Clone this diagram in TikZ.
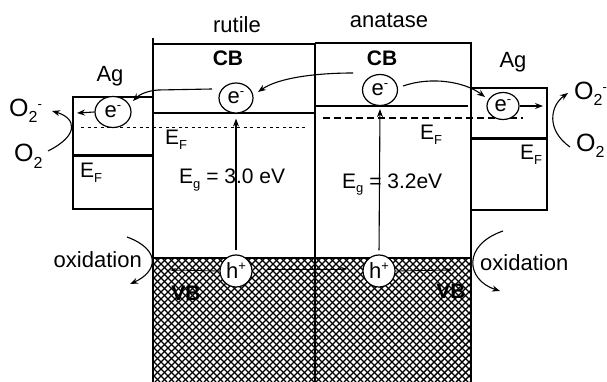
\documentclass[tikz,border=0pt]{standalone}
\usepackage{fontspec}
\setmainfont{Liberation Sans}
\usetikzlibrary{arrows.meta,shapes.geometric}
\newcommand{\lsub}[1]{\raisebox{-5pt}{\fontsize{13pt}{13pt}\selectfont #1}}
\newcommand{\osub}[1]{\raisebox{-6pt}{\fontsize{16pt}{16pt}\selectfont #1}}
\newcommand{\hsup}[1]{\raisebox{8pt}{\fontsize{13pt}{13pt}\selectfont #1}}
\begin{document}
\begin{tikzpicture}[x=1pt,y=-1pt,
  font=\fontsize{22pt}{24pt}\selectfont,
  ln/.style={line width=1.3pt},
  thickln/.style={line width=3pt},
  carrier/.style={ellipse, draw, fill=white, inner sep=0pt, line width=1.2pt},
  arr/.style={-{Stealth[length=8pt,width=6pt]}, line width=1.1pt},
  lbl/.style={inner sep=0pt, anchor=base west},
  elbl/.style={inner sep=0pt, anchor=base west, font=\fontsize{21pt}{23pt}\selectfont},
  olbl/.style={inner sep=0pt, anchor=base west, font=\fontsize{25pt}{27pt}\selectfont},
  bld/.style={inner sep=0pt, font=\fontsize{21pt}{23pt}\selectfont\bfseries}]
\useasboundingbox (0,0) rectangle (607,382);

% valence band cross-hatch
\begin{scope}
  \clip (153,258) rectangle (471,382);
  \foreach \a in {0,7,...,462}{
    \draw[line width=1.4pt] ({29+\a},382) -- ({153+\a},258);
    \draw[line width=1.4pt] ({29+\a},258) -- ({153+\a},382);
  }
\end{scope}

% band frame
\draw[ln] (153,38) -- (153,382);
\draw[ln] (315,44) -- (315,382);
\draw[ln] (471,42) -- (471,382);
\draw[ln] (153,44) -- (315,44);
\draw[ln] (315,43) -- (471,43);
\draw[ln] (153,113) -- (315,113);
\draw[ln] (315,106) -- (468,106);
\draw[ln] (153,258) -- (471,258);

% Ag boxes
\draw[ln] (153,97) -- (73,97) -- (73,209) -- (153,209);
\draw[thickln] (73,156) -- (153,156);
\draw[ln] (471,88) -- (547,88) -- (547,210) -- (471,210);
\draw[thickln] (471,139) -- (547,139);

% Fermi levels
\draw[line width=1pt, dash pattern=on 3pt off 3.5pt] (81,128) -- (308,128);
\draw[line width=1.1pt, dash pattern=on 7pt off 4pt] (323,118) -- (523,118);

% labels
\node[inner sep=0pt, anchor=base] (rut) at (237,33) {rutile};
\node[inner sep=0pt, anchor=base] (ana) at (389,28) {anatase};
\node[bld] (cbr) at (228,58) {CB};
\node[bld] (cba) at (382,58) {CB};
\node[inner sep=0pt, anchor=base] (ag1) at (110,82) {Ag};
\node[inner sep=0pt, anchor=base] (ag2) at (513,68) {Ag};
\node[elbl] (ef1) at (80,178) {E\lsub{F}};
\node[elbl] (ef2) at (165,145) {E\lsub{F}};
\node[elbl] (ef3) at (420,140) {E\lsub{F}};
\node[elbl] (ef4) at (520,160) {E\lsub{F}};
\node[elbl] (egr) at (179,183) {E\lsub{g} = 3.0 eV};
\node[elbl] (ega) at (342,188) {E\lsub{g} = 3.2eV};
\node[lbl, anchor=base east] (ox1) at (142,267) {oxidation};
\node[lbl] (ox2) at (480,270) {oxidation};
\node[bld] (vb1) at (186,293) {VB};
\node[bld] (vb2) at (451,291) {VB};
\node[olbl] (o2m1) at (9,117) {O\osub{2}\hsup{-}};
\node[olbl] (o21) at (14,162) {O\osub{2}};
\node[olbl] (o2m2) at (574,100) {O\osub{2}\hsup{-}};
\node[olbl] (o22) at (576,152) {O\osub{2}};

% carriers
\node[carrier, minimum width=36pt, minimum height=31pt] (eAg1) at (113,112) {e\hsup{-}};
\node[carrier, minimum width=34pt, minimum height=30pt] (eR) at (236,98) {e\hsup{-}};
\node[carrier, minimum width=35pt, minimum height=31pt] (eA) at (380,90) {e\hsup{-}};
\node[carrier, minimum width=32pt, minimum height=27pt] (eAg2) at (503,106) {e\hsup{-}};
\node[carrier, circle, minimum size=32pt] (hR) at (236,271) {h\hsup{+}};
\node[carrier, circle, minimum size=32pt] (hA) at (379,271) {h\hsup{+}};

% free ends
\coordinate (c1) at (353,73);
\coordinate (c2) at (258,92);
\coordinate (c3) at (212,89);
\coordinate (c4) at (133,101);
\coordinate (c5) at (403,86);
\coordinate (c6) at (485,97);
\coordinate (c7) at (77,113);
\coordinate (c8) at (543,106);
\coordinate (o1s) at (48,151);
\coordinate (o1e) at (52,111);
\coordinate (o2s) at (570,147);
\coordinate (o2e) at (568,93);
\coordinate (x1s) at (127,237);
\coordinate (x1e) at (130,284);
\coordinate (x2s) at (503,231);
\coordinate (x2e) at (500,291);
\coordinate (h1) at (170,270);
\coordinate (h2s) at (267,269);
\coordinate (h2e) at (347,269);
\coordinate (h3) at (452,270);

% electron transfer
\draw[arr] (c1) .. controls (315,73) and (278,78) .. (c2);
\draw[arr] (c3) -- (158,90) .. controls (146,91) and (139,95) .. (c4);
\draw[arr] (c5) .. controls (432,76) and (465,82) .. (c6);
\draw[arr] (eAg1.west) -- (c7);
\draw[arr] (eAg2.east) -- (c8);

% excitation
\draw[arr, shorten <=4pt, shorten >=5pt] (hR.north) -- (eR.south);
\draw[arr, shorten <=4pt, shorten >=3pt] (hA.north) -- (eA.south);

% hole transfer
\draw[-{Stealth[length=6pt,width=4pt]}, line width=0.8pt] (hR.west) -- (h1);
\draw[-{Stealth[length=6pt,width=4pt]}, line width=0.8pt] (h2s) -- (h2e);
\draw[-{Stealth[length=6pt,width=4pt]}, line width=0.8pt] (hA.east) -- (h3);

% O2 reduction and oxidation
\draw[arr] (o1s) .. controls (80,135) and (76,118) .. (o1e);
\draw[arr] (o2s) .. controls (546,130) and (550,106) .. (o2e);
\draw[arr] (x1s) .. controls (162,250) and (157,272) .. (x1e);
\draw[arr] (x2s) .. controls (462,245) and (466,280) .. (x2e);
\end{tikzpicture}
\end{document}
